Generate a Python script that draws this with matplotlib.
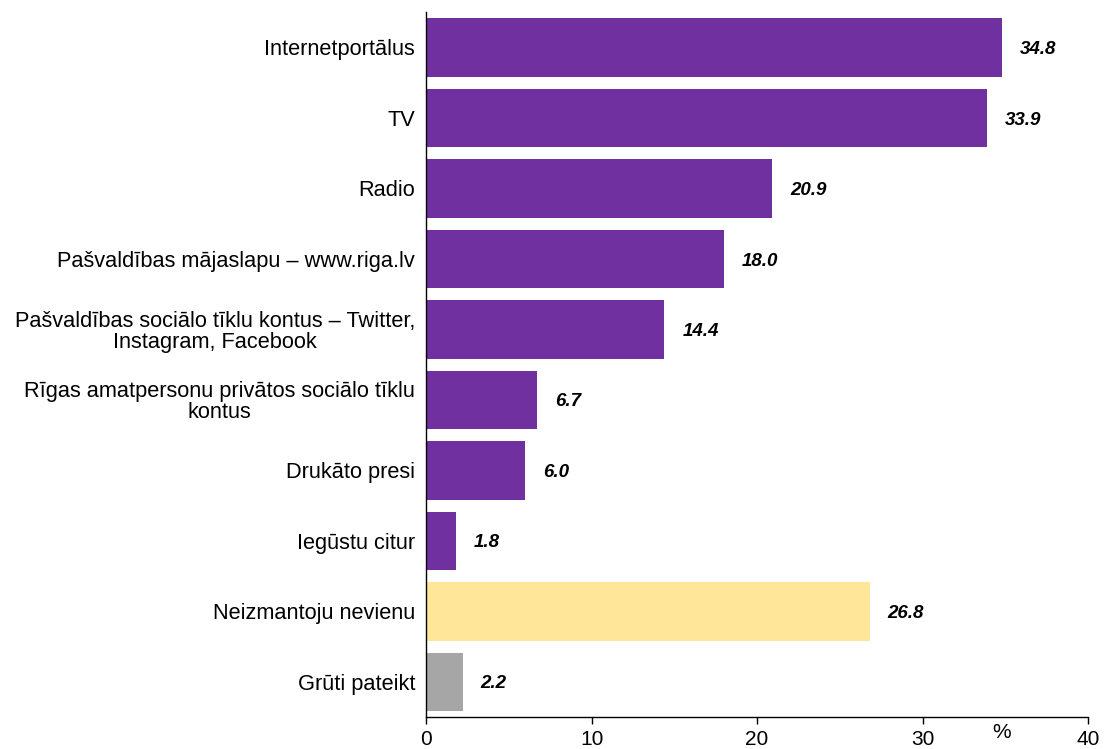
import matplotlib.pyplot as plt

plt.rcParams['font.family'] = ['Liberation Sans', 'DejaVu Sans']

# data (top to bottom as in the picture)
categories = [
    'Internetportālus',
    'TV',
    'Radio',
    'Pašvaldības mājaslapu – www.riga.lv',
    'Pašvaldības sociālo tīklu kontus – Twitter,\nInstagram, Facebook',
    'Rīgas amatpersonu privātos sociālo tīklu\nkontus',
    'Drukāto presi',
    'Iegūstu citur',
    'Neizmantoju nevienu',
    'Grūti pateikt',
]
values = [34.8, 33.9, 20.9, 18.0, 14.4, 6.7, 6.0, 1.8, 26.8, 2.2]
bar_colors = ['#7030A0'] * 8 + ['#FFE699', '#A6A6A6']
x_ticks = [0, 10, 20, 30, 40]

fig = plt.figure(figsize=(11.04, 7.49), dpi=100)
ax = fig.add_axes([0.386, 0.0427, 0.5995, 0.941])

pos = list(range(len(categories)))
ax.barh(pos, values, height=0.83, color=bar_colors)

for p, v in zip(pos, values):
    ax.text(v + 1.1, p + 0.03, f'{v:.1f}', va='center', ha='left',
            fontsize=13.5, fontweight='bold', fontstyle='italic')

ax.set_ylim(len(categories) - 0.5, -0.5)
ax.set_xlim(0, 40)
ax.set_yticks(pos)
ax.set_yticklabels(categories, fontsize=15.7, ha='right',
                   multialignment='center', linespacing=1.0)
ax.tick_params(axis='y', length=0, pad=8)
ax.set_xticks(x_ticks)
ax.set_xticklabels([str(t) for t in x_ticks], fontsize=15)
ax.tick_params(axis='x', length=5, width=1, direction='out', pad=4.5)

for s in ['top', 'right']:
    ax.spines[s].set_visible(False)
ax.spines['left'].set_linewidth(1)
ax.spines['bottom'].set_linewidth(1)

ax.text(34.8, -0.008, '%', transform=ax.get_xaxis_transform(), ha='center',
        va='top', fontsize=15)

fig.savefig('out.png', dpi=100)
